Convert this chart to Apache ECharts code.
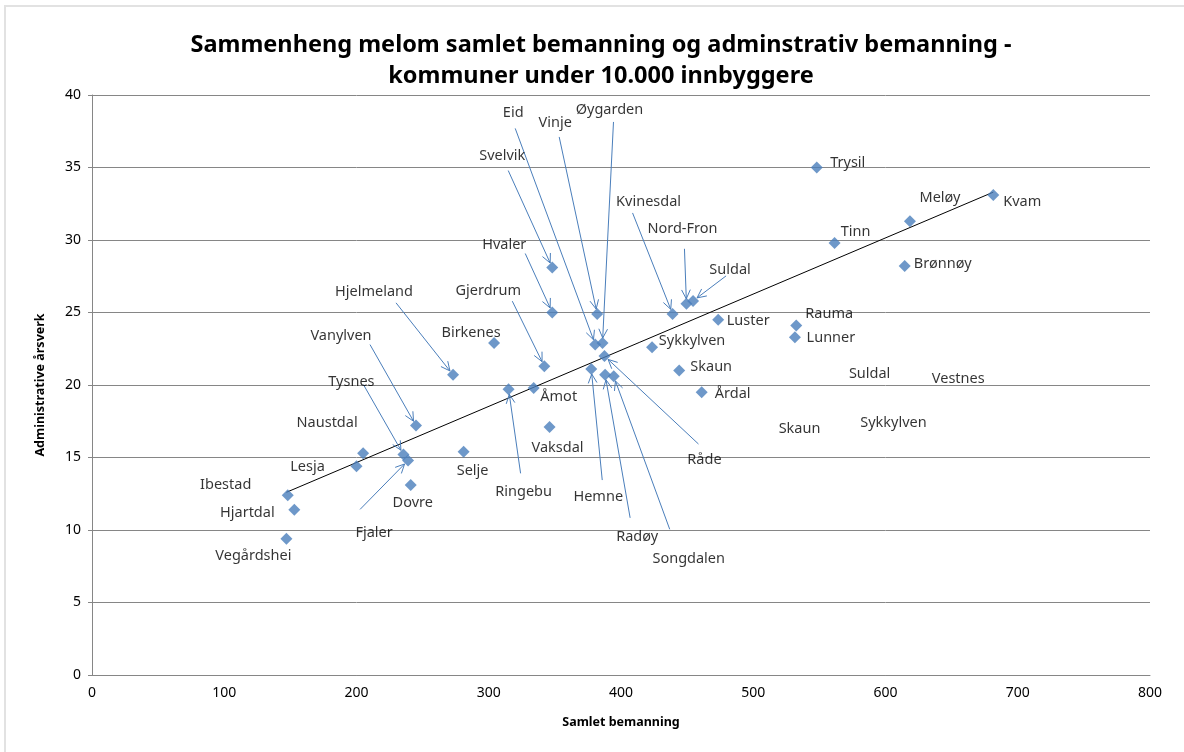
<!DOCTYPE html>
<html>
<head>
<meta charset="utf-8">
<script src="https://cdn.jsdelivr.net/npm/echarts@6/dist/echarts.min.js"></script>
<style>
  html, body { margin: 0; padding: 0; background: #fff; }
  #main { width: 1184px; height: 752px; }
</style>
</head>
<body>
<div id="main"></div>
<script>
// kommuner og verdier lest av grafen
const names = [
  "Vegårdshei", "Hjartdal", "Ibestad", "Lesja", "Naustdal", "Tysnes", "Fjaler", "Dovre",
  "Vanylven", "Hjelmeland", "Selje", "Birkenes", "Ringebu", "Åmot", "Gjerdrum", "Vaksdal",
  "Svelvik", "Hvaler", "Hemne", "Eid", "Vinje", "Øygarden", "Råde", "Radøy", "Songdalen",
  "Sykkylven", "Kvinesdal", "Skaun", "Nord-Fron", "Suldal", "Årdal", "Luster", "Lunner",
  "Rauma", "Trysil", "Tinn", "Brønnøy", "Meløy", "Kvam",
];
const xValues = [
  147, 153, 148, 200, 205, 235.5, 239, 241,
  245, 273, 281, 304, 315, 334, 342, 346,
  348, 348, 377.5, 380.5, 382, 386, 387.5, 388, 394.5,
  423.5, 439, 444, 449.5, 454.5, 461, 473.5, 531.5,
  532.5, 548, 561.5, 614.5, 618.5, 681.5,
];
const yValues = [
  9.4, 11.4, 12.4, 14.4, 15.3, 15.2, 14.8, 13.1,
  17.2, 20.7, 15.4, 22.9, 19.7, 19.8, 21.3, 17.1,
  28.1, 25.0, 21.1, 22.8, 24.9, 22.9, 22.0, 20.7, 20.6,
  22.6, 24.9, 21.0, 25.6, 25.8, 19.5, 24.5, 23.3,
  24.1, 35.0, 29.8, 28.2, 31.3, 33.1,
];
// trendlinje (endepunkter)
const trendX = [147, 681.5];
const trendY = [12.6, 33.3];
// løse etiketter uten punkt
const strayNames = ["Suldal", "Vestnes", "Skaun", "Sykkylven"];
const strayX = [588, 655, 535, 606];
const strayY = [20.8, 20.4, 17.0, 17.4];

// plassering av etiketter (px, relativt til punktet)
const labelOffset = {
  "Eid": [-82, -232], "Vinje": [-42, -191], "Øygarden": [7, -233], "Svelvik": [-50, -112],
  "Hvaler": [-48, -68], "Gjerdrum": [-56, -75], "Kvinesdal": [-24, -112], "Nord-Fron": [-4, -75],
  "Suldal": [37, -31], "Hjelmeland": [-79, -83], "Vanylven": [-75, -90], "Tysnes": [-52, -73],
  "Fjaler": [-34, 72], "Ringebu": [15, 103], "Hemne": [7, 128], "Radøy": [32, 162],
  "Songdalen": [75, 183], "Råde": [100, 104], "Birkenes": [-23, -10], "Naustdal": [-36, -30],
  "Lesja": [-49, 1], "Ibestad": [-62, -10], "Hjartdal": [-47, 3], "Vegårdshei": [-33, 17],
  "Dovre": [2, 18], "Selje": [9, 19], "Åmot": [25, 9], "Vaksdal": [8, 21],
  "Sykkylven": [40, -6], "Skaun": [32, -4], "Årdal": [31, 2], "Luster": [30, 1],
  "Rauma": [33, -12], "Lunner": [36, 1], "Trysil": [31, -5], "Tinn": [21, -11],
  "Meløy": [30, -23], "Kvam": [29, 7], "Brønnøy": [38, -2],
};
// start for pilene (px, relativt til punktet)
const arrowStart = {
  "Eid": [-80, -216], "Vinje": [-38, -177], "Øygarden": [11, -221], "Svelvik": [-44, -97],
  "Hvaler": [-27, -59], "Gjerdrum": [-32, -65], "Kvinesdal": [-40, -101], "Nord-Fron": [-2, -55],
  "Suldal": [33, -25], "Hjelmeland": [-57, -72], "Vanylven": [-46, -81], "Tysnes": [-40, -70],
  "Fjaler": [-48, 49], "Ringebu": [12, 84], "Hemne": [11, 111], "Radøy": [25, 143],
  "Songdalen": [56, 153], "Råde": [94, 88],
};

const FONT = "'Noto Sans', 'Open Sans', sans-serif";
const blue = "#4A7EBB";

const myChart = echarts.init(document.getElementById("main"));

const pointData = names.map((n, i) => ({
  name: n,
  value: [xValues[i], yValues[i]],
  label: { offset: labelOffset[n] || [30, 0] },
}));
const arrowData = Object.keys(arrowStart).map((n) => {
  const i = names.indexOf(n);
  return [xValues[i], yValues[i], i];
});

const option = {
  animation: false,
  backgroundColor: "#fff",
  graphic: [
    {
      type: "rect",
      shape: { x: 5, y: 6, width: 1240, height: 800 },
      style: { fill: null, stroke: "#e2e2e2", lineWidth: 2 },
      silent: true,
    },
  ],
  title: {
    text: "Sammenheng melom samlet bemanning og adminstrativ bemanning -\nkommuner under 10.000 innbyggere",
    left: 596,
    textAlign: "center",
    top: 25,
    textStyle: {
      fontFamily: FONT,
      fontSize: 23.5,
      fontWeight: "bold",
      lineHeight: 31,
      color: "#000",
    },
  },
  grid: { left: 92, right: 34, top: 95, bottom: 77 },
  xAxis: {
    type: "value",
    min: 0,
    max: 800,
    interval: 100,
    name: "Samlet bemanning",
    nameLocation: "middle",
    nameGap: 41,
    nameTextStyle: { fontFamily: FONT, fontSize: 12.5, fontWeight: "bold", color: "#000" },
    axisLine: { show: true, lineStyle: { color: "#868686" } },
    axisTick: { show: false },
    axisLabel: { fontFamily: FONT, fontSize: 14, color: "#000", margin: 11 },
    splitLine: { show: false },
  },
  yAxis: {
    type: "value",
    min: 0,
    max: 40,
    interval: 5,
    name: "Administrative årsverk",
    nameLocation: "middle",
    nameGap: 45,
    nameTextStyle: { fontFamily: FONT, fontSize: 12.5, fontWeight: "bold", color: "#000" },
    axisLine: { show: true, lineStyle: { color: "#868686" } },
    axisTick: { show: true, length: 4, lineStyle: { color: "#868686" } },
    axisLabel: { fontFamily: FONT, fontSize: 14, color: "#000", margin: 11 },
    splitLine: { show: true, lineStyle: { color: "#868686", width: 1 } },
  },
  series: [
    {
      name: "trend",
      type: "line",
      data: trendX.map((x, i) => [x, trendY[i]]),
      symbol: "none",
      lineStyle: { color: "#000", width: 1 },
      z: 2,
      silent: true,
    },
    {
      // piler fra etikett til punkt
      type: "custom",
      coordinateSystem: "cartesian2d",
      data: arrowData,
      encode: { x: 0, y: 1 },
      z: 3,
      silent: true,
      renderItem(params, api) {
        const p = api.coord([api.value(0), api.value(1)]);
        const off = arrowStart[names[api.value(2)]];
        const sx = p[0] + off[0];
        const sy = p[1] + off[1];
        const dx = p[0] - sx;
        const dy = p[1] - sy;
        const len = Math.hypot(dx, dy);
        const ux = dx / len;
        const uy = dy / len;
        const tx = p[0] - ux * 5;
        const ty = p[1] - uy * 5;
        const ah = 10;
        const c = Math.cos(0.45);
        const s = Math.sin(0.45);
        const bx = -ux;
        const by = -uy;
        const l1 = [tx + ah * (bx * c - by * s), ty + ah * (bx * s + by * c)];
        const l2 = [tx + ah * (bx * c + by * s), ty + ah * (-bx * s + by * c)];
        return {
          type: "group",
          children: [
            {
              type: "line",
              shape: { x1: sx, y1: sy, x2: tx, y2: ty },
              style: { stroke: "#4A7EBB", lineWidth: 1 },
            },
            {
              type: "polyline",
              shape: { points: [l1, [tx, ty], l2] },
              style: { stroke: "#4A7EBB", fill: null, lineWidth: 1 },
            },
          ],
        };
      },
    },
    {
      name: "kommuner",
      type: "scatter",
      data: pointData,
      symbol: "diamond",
      symbolSize: 12,
      itemStyle: { color: blue },
      z: 4,
      label: {
        show: true,
        position: "inside",
        formatter: "{b}",
        fontFamily: FONT,
        fontSize: 14.5,
        color: "#000",
      },
    },
    {
      name: "etiketter",
      type: "scatter",
      data: strayNames.map((n, i) => ({ name: n, value: [strayX[i], strayY[i]] })),
      symbolSize: 0,
      z: 4,
      silent: true,
      label: {
        show: true,
        position: "inside",
        formatter: "{b}",
        fontFamily: FONT,
        fontSize: 14.5,
        color: "#000",
      },
    },
  ],
};

myChart.setOption(option);
window.addEventListener("resize", () => {
  myChart.resize();
});
</script>
</body>
</html>
